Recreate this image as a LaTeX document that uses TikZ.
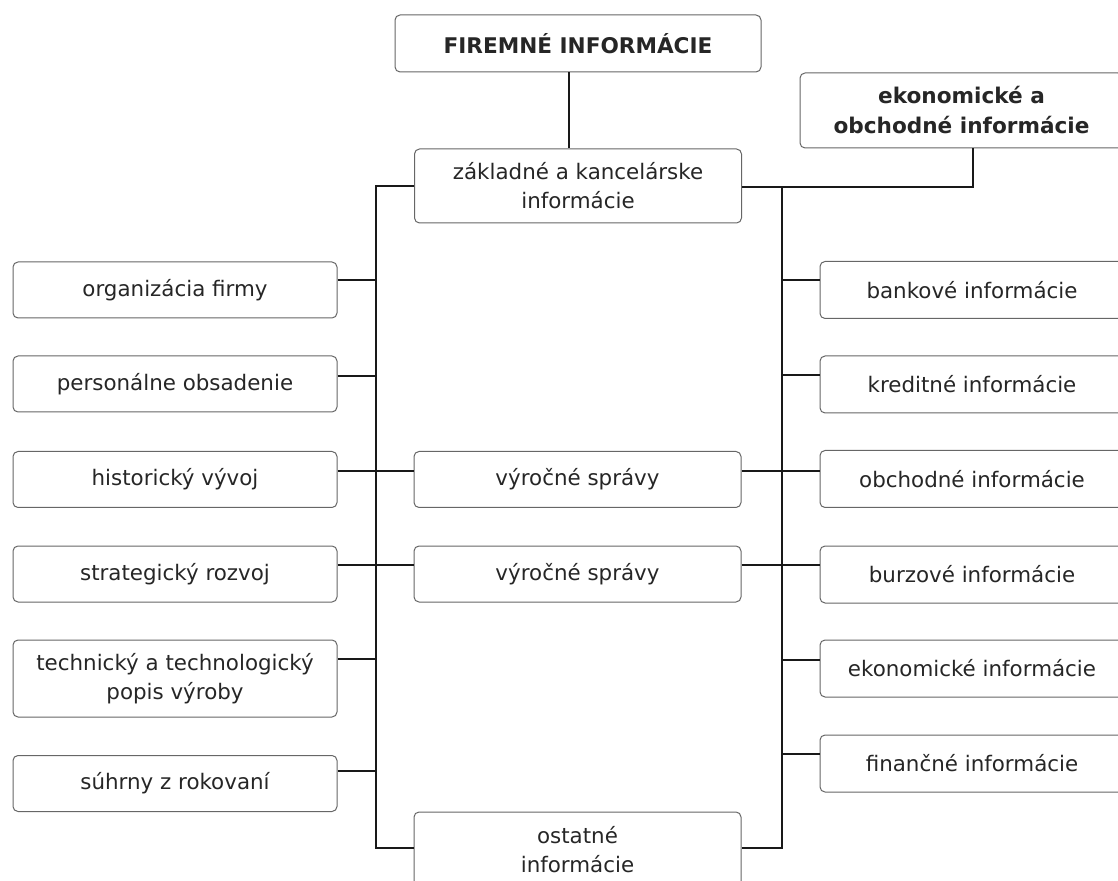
\documentclass[tikz,border=0pt]{standalone}
\usepackage{fontspec}
\setmainfont{DejaVu Sans}
\begin{document}
\begin{tikzpicture}[x=0.5pt, y=-0.5pt,
	box/.style={draw=black!60, line width=0.5pt, rounded corners=2.5pt, align=center, text=black!85, inner sep=0pt, font=\fontsize{10.7}{14.5}\selectfont},
	lbox/.style={box, minimum width=162pt, minimum height=28pt},
	rbox/.style={box, minimum width=152pt, minimum height=28.5pt},
	mbox/.style={box, minimum width=163.5pt, minimum height=28pt},
	link/.style={line width=0.7pt, black!90}]
	\useasboundingbox (0,0) rectangle (1118,881);
	\clip (0,0) rectangle (1118,881);
	% top
	\node[box, minimum width=183pt, minimum height=28.5pt, font=\fontsize{10.8}{14.5}\selectfont\bfseries] (firm) at (578,43.5) {FIREMNÉ INFORMÁCIE};
	\node[box, minimum width=161.5pt, minimum height=37.5pt, font=\fontsize{10.8}{15}\selectfont\bfseries] (eko) at (961.5,110.5) {ekonomické a\\obchodné informácie};
	\node[mbox, minimum height=37pt] (zak) at (578,186) {základné a kancelárske\\informácie};
	% left column
	\node[lbox] (org) at (175,290) {organizácia firmy};
	\node[lbox] (pers) at (175,384) {personálne obsadenie};
	\node[lbox] (hist) at (175,479.5) {historický vývoj};
	\node[lbox] (strat) at (175,574) {strategický rozvoj};
	\node[lbox, minimum height=38.5pt] (tech) at (175,678.5) {technický a technologický\\popis výroby};
	\node[lbox] (suhr) at (175,783.5) {súhrny z rokovaní};
	% middle column
	\node[mbox] (vyr1) at (577.5,479.5) {výročné správy};
	\node[mbox] (vyr2) at (577.5,574) {výročné správy};
	\node[mbox, minimum height=38pt] (ost) at (577.5,850) {ostatné\\informácie};
	% right column
	\node[rbox] (bank) at (972,290) {bankové informácie};
	\node[rbox] (kred) at (972,384.5) {kreditné informácie};
	\node[rbox] (obch) at (972,479) {obchodné informácie};
	\node[rbox] (burz) at (972,574.5) {burzové informácie};
	\node[rbox] (ekon) at (972,668.5) {ekonomické informácie};
	\node[rbox] (fin) at (972,763.5) {finančné informácie};
	% buses
	\coordinate (lt) at (376,186);
	\coordinate (lb) at (376,848);
	\coordinate (rt) at (782,187);
	\coordinate (rb) at (782,848);
	\coordinate (ek) at (973,187);
	\draw[link] (firm.south -| 569,0) -- (zak.north -| 569,0);
	\draw[link] (zak.west) -- (lt) -- (lb) -- (ost.west |- lb);
	\draw[link] (zak.east |- ek) -- (ek) -- (eko.south -| ek);
	\draw[link] (rt) -- (rb) -- (ost.east |- rb);
	\foreach \n/\y in {org/280, pers/376, tech/659, suhr/771}
		\draw[link] (\n.east |- 0,\y) -- (lb |- 0,\y);
	\foreach \n/\y in {bank/280, kred/375, ekon/660, fin/754}
		\draw[link] (rb |- 0,\y) -- (\n.west |- 0,\y);
	\foreach \a/\b/\c/\y in {hist/vyr1/obch/471, strat/vyr2/burz/565} {
		\draw[link] (\a.east |- 0,\y) -- (\b.west |- 0,\y);
		\draw[link] (\b.east |- 0,\y) -- (\c.west |- 0,\y);
	}
\end{tikzpicture}
\end{document}
